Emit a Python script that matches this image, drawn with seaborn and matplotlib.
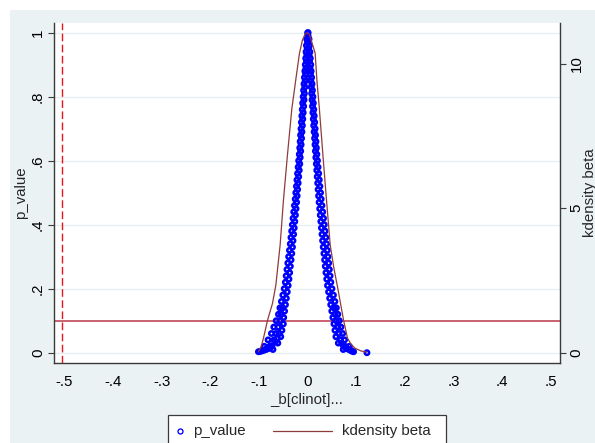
import matplotlib
matplotlib.use('Agg')
import matplotlib.pyplot as plt
from matplotlib.patches import Rectangle
from matplotlib.lines import Line2D
import pandas as pd
import seaborn as sns

sns.set_style('white')
plt.rcParams['font.family'] = ['Liberation Sans', 'DejaVu Sans']

# p levels shared by both branches of the placebo scatter (top to bottom)
p_levels = [1.00, 0.99, 0.98, 0.97, 0.96, 0.95, 0.94, 0.93, 0.92, 0.91,
            0.90, 0.89, 0.88, 0.87, 0.86, 0.85, 0.84, 0.83, 0.82, 0.81,
            0.80, 0.79, 0.78, 0.77, 0.76, 0.75, 0.74, 0.73, 0.72, 0.71,
            0.70, 0.69, 0.68, 0.67, 0.66, 0.65, 0.64, 0.63, 0.62, 0.61,
            0.60, 0.59, 0.58, 0.57, 0.56, 0.55, 0.54, 0.53, 0.52, 0.51,
            0.50, 0.49, 0.48, 0.47, 0.46, 0.45, 0.44, 0.43, 0.42, 0.41,
            0.40, 0.39, 0.38, 0.37, 0.36, 0.35, 0.34, 0.33, 0.32, 0.31,
            0.30, 0.29, 0.28, 0.27, 0.26, 0.25, 0.24, 0.23, 0.22, 0.21,
            0.20, 0.19, 0.18, 0.17, 0.16, 0.15, 0.14, 0.13, 0.12, 0.11,
            0.10, 0.09, 0.08, 0.07, 0.06, 0.05, 0.04, 0.03, 0.02, 0.01]

beta_left = [0.0005, 0.0010, -0.0015, 0.0001, -0.0022, -0.0006, -0.0029, -0.0013, -0.0037, -0.0021,
             -0.0045, -0.0030, -0.0054, -0.0039, -0.0063, -0.0047, -0.0071, -0.0056, -0.0080, -0.0064,
             -0.0088, -0.0071, -0.0099, -0.0079, -0.0107, -0.0088, -0.0116, -0.0097, -0.0125, -0.0105,
             -0.0133, -0.0114, -0.0142, -0.0122, -0.0150, -0.0131, -0.0159, -0.0140, -0.0168, -0.0150,
             -0.0181, -0.0159, -0.0192, -0.0170, -0.0204, -0.0181, -0.0216, -0.0192, -0.0227, -0.0203,
             -0.0240, -0.0213, -0.0252, -0.0224, -0.0267, -0.0236, -0.0282, -0.0248, -0.0296, -0.0261,
             -0.0310, -0.0273, -0.0325, -0.0285, -0.0339, -0.0298, -0.0353, -0.0309, -0.0370, -0.0323,
             -0.0387, -0.0338, -0.0404, -0.0353, -0.0421, -0.0367, -0.0438, -0.0381, -0.0455, -0.0398,
             -0.0478, -0.0416, -0.0506, -0.0435, -0.0536, -0.0453, -0.0566, -0.0471, -0.0596, -0.0489,
             -0.0643, -0.0497, -0.0692, -0.0526, -0.0741, -0.0550, -0.0810, -0.0610, -0.0890, -0.0710]

beta_right = [0.0012, 0.0007, 0.0032, 0.0017, 0.0041, 0.0025, 0.0049, 0.0033, 0.0058, 0.0042,
              0.0067, 0.0051, 0.0075, 0.0060, 0.0084, 0.0069, 0.0093, 0.0077, 0.0102, 0.0086,
              0.0111, 0.0094, 0.0120, 0.0103, 0.0129, 0.0112, 0.0138, 0.0120, 0.0148, 0.0128,
              0.0157, 0.0137, 0.0165, 0.0146, 0.0174, 0.0155, 0.0183, 0.0163, 0.0192, 0.0172,
              0.0205, 0.0182, 0.0217, 0.0191, 0.0230, 0.0200, 0.0242, 0.0210, 0.0255, 0.0219,
              0.0268, 0.0228, 0.0281, 0.0239, 0.0297, 0.0251, 0.0313, 0.0263, 0.0329, 0.0275,
              0.0345, 0.0287, 0.0361, 0.0299, 0.0377, 0.0311, 0.0393, 0.0324, 0.0407, 0.0338,
              0.0421, 0.0352, 0.0435, 0.0366, 0.0449, 0.0380, 0.0464, 0.0396, 0.0480, 0.0412,
              0.0503, 0.0434, 0.0533, 0.0456, 0.0563, 0.0478, 0.0593, 0.0500, 0.0623, 0.0522,
              0.0653, 0.0544, 0.0687, 0.0565, 0.0723, 0.0585, 0.0762, 0.0634, 0.0860, 0.0735]

# extra points in the wide lower part of the band and the tails
tail_beta = [-0.1008, -0.0970, -0.0930, -0.0890, -0.0850, -0.0800, -0.0760, -0.0830, -0.0730, -0.0660,
             -0.0620, -0.0580, -0.0514, -0.0538, -0.0563, -0.0602, -0.0641, -0.0690, -0.0775,
             0.0947, 0.0910, 0.0880, 0.0850, 0.0810, 0.0780, 0.0740, 0.0700,
             0.0541, 0.0567, 0.0593, 0.0621, 0.0649, 0.0680, 0.0770, 0.1222]
tail_p = [0.003, 0.004, 0.006, 0.008, 0.010, 0.013, 0.016, 0.015, 0.022, 0.035,
          0.045, 0.060, 0.14, 0.12, 0.10, 0.08, 0.06, 0.04, 0.02,
          0.003, 0.005, 0.008, 0.010, 0.013, 0.016, 0.022, 0.030,
          0.14, 0.12, 0.10, 0.08, 0.06, 0.04, 0.02, 0.000]

# kernel density of beta (right axis)
kd_beta = [-0.1008, -0.0950, -0.0905, -0.0820, -0.0720, -0.0650, -0.0562, -0.0494, -0.0412, -0.0321,
           -0.0240, -0.0165, -0.0103, -0.0050, -0.0012, 0.0035, 0.0076, 0.0158, 0.0193, 0.0241,
           0.0317, 0.0385, 0.0467, 0.0540, 0.0617, 0.0741, 0.0823, 0.0900, 0.0981, 0.1100, 0.1222]
kd_dens = [0.03, 0.22, 0.50, 1.13, 1.70, 2.34, 3.73, 5.28, 6.84, 8.45,
           9.45, 10.36, 10.82, 11.02, 11.07, 11.02, 10.82, 10.36, 9.43, 8.51,
           6.84, 5.40, 3.73, 2.95, 2.28, 1.13, 0.50, 0.28, 0.15, 0.06, 0.02]

x_ticks = [-0.5, -0.4, -0.3, -0.2, -0.1, 0.0, 0.1, 0.2, 0.3, 0.4, 0.5]
x_labels = ['-.5', '-.4', '-.3', '-.2', '-.1', '0', '.1', '.2', '.3', '.4', '.5']
p_ticks = [0, 0.2, 0.4, 0.6, 0.8, 1.0]
p_labels = ['0', '.2', '.4', '.6', '.8', '1']
kd_ticks = [0, 5, 10]
kd_labels = ['0', '5', '10']

true_beta = -0.504
p_cut = 0.1

scatter_df = pd.DataFrame({
    'beta': beta_left + beta_right + tail_beta,
    'p_value': p_levels + p_levels + tail_p,
})
kd_df = pd.DataFrame({'beta': kd_beta, 'density': kd_dens})

W, H = 595, 443
fig = plt.figure(figsize=(W / 100, H / 100), dpi=100)
fig.patch.set_facecolor('white')
fig.patches.append(Rectangle((10 / W, 0), 1, 1 - 10 / H, transform=fig.transFigure,
                             facecolor='#EAF2F3', edgecolor='none', zorder=-5))

left, right, top, bottom = 54, 560, 23, 363
ax = fig.add_axes([left / W, 1 - bottom / H, (right - left) / W, (bottom - top) / H])
ax.set_facecolor('white')

axis_col = '#3a3a3a'
fs = 10.8

ax.set_xlim(-0.521, 0.519)
ax.set_ylim(-0.0322, 1.0303)
for v in p_ticks:
    ax.axhline(v, color='#E6EEF0', lw=1.0, zorder=0)

ax.axhline(p_cut, color='#C04858', lw=1.2, zorder=1)
ax.axvline(true_beta, color='#E8151B', lw=1.0, ls=(0, (5.5, 2.5)), zorder=1)

sns.scatterplot(data=scatter_df, x='beta', y='p_value', ax=ax, marker='o',
                s=10, color='blue', facecolors='none', edgecolor='blue',
                linewidth=1.8, legend=False, zorder=3)

ax2 = ax.twinx()
ax2.set_ylim(-0.356, 11.408)
ax2.patch.set_visible(False)
sns.lineplot(data=kd_df, x='beta', y='density', ax=ax2, color='#8E3B3B',
             lw=0.9, legend=False, zorder=4)

ax.set_xticks(x_ticks)
ax.set_xticklabels(x_labels)
ax.set_yticks(p_ticks)
ax.set_yticklabels(p_labels, rotation=90, va='center')
ax2.set_yticks(kd_ticks)
ax2.set_yticklabels(kd_labels, rotation=90, va='center')

for a in (ax, ax2):
    for s in a.spines.values():
        s.set_visible(False)
        s.set_color(axis_col)
        s.set_linewidth(1.0)
ax.spines['left'].set_visible(True)
ax.spines['bottom'].set_visible(True)
ax2.spines['right'].set_visible(True)

ax.tick_params(axis='both', direction='out', length=4, width=0.8, color=axis_col,
               labelsize=fs, labelcolor='black')
ax.tick_params(axis='y', pad=2.5)
ax.tick_params(axis='x', pad=4.5)
ax2.tick_params(axis='y', direction='out', length=4, width=0.8, color=axis_col,
                labelsize=fs, labelcolor='black', pad=3.0)

ax.set_xlabel('_b[clinot]...', fontsize=fs, va='center')
ax.xaxis.set_label_coords(0.5, -(400 - bottom) / (bottom - top))
ax.set_ylabel('p_value', fontsize=fs, va='center', rotation=90)
ax.yaxis.set_label_coords((21 - left) / (right - left), 0.5)
# the reference crops this title at the right edge of the image
ax2.set_ylabel('kdensity beta', fontsize=fs, va='center', rotation=90)
ax2.yaxis.set_label_coords((590 - left) / (right - left), 0.5)

# legend box below the plot
lx0, lx1, ly0, ly1 = 168, 446, 415, 450
fig.patches.append(Rectangle((lx0 / W, 1 - ly1 / H), (lx1 - lx0) / W, (ly1 - ly0) / H,
                             transform=fig.transFigure, facecolor='white',
                             edgecolor=axis_col, lw=0.9, zorder=5))
ly = 1 - 431 / H
fig.lines.append(Line2D([180 / W], [ly], transform=fig.transFigure, marker='o',
                        ms=3.6, mfc='none', mec='blue', mew=0.95, ls='none', zorder=6))
fig.text(193 / W, ly, 'p_value', fontsize=fs, va='center', ha='left', zorder=6)
fig.lines.append(Line2D([273 / W, 332 / W], [ly, ly], transform=fig.transFigure,
                        color='#8E3B3B', lw=0.9, zorder=6))
fig.text(342 / W, ly, 'kdensity beta', fontsize=fs, va='center', ha='left', zorder=6)

fig.savefig('out.png', dpi=100)
